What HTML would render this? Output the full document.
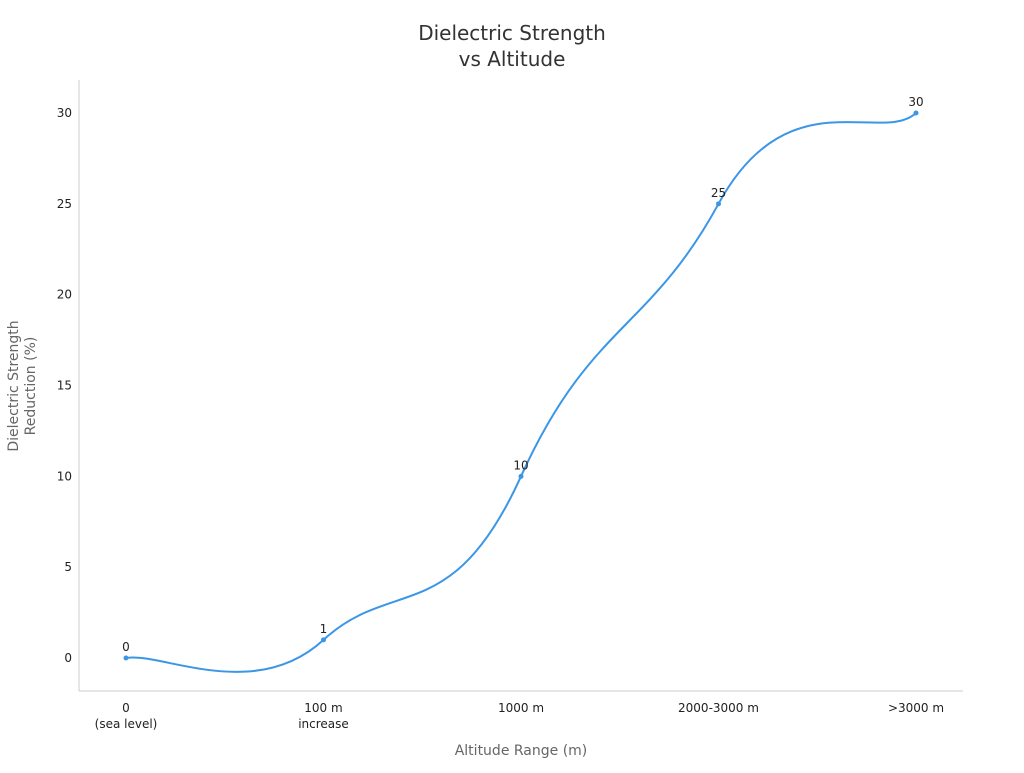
<!DOCTYPE html>
<html><head><meta charset="utf-8"><style>
body{margin:0;background:#fff;}
svg{font-family:"DejaVu Sans","Liberation Sans",sans-serif;}
</style></head><body>
<svg id="chart" width="1024" height="768">
<text x="512" y="40" text-anchor="middle" font-size="20" fill="#333"><tspan x="512">Dielectric Strength</tspan><tspan x="512" dy="26">vs Altitude</tspan></text>
<line x1="79" y1="80" x2="79" y2="691" stroke="#ccc"/>
<line x1="79" y1="691" x2="963" y2="691" stroke="#ccc"/>
<g id="yticks"></g><g id="xticks"></g>
<path id="line" fill="none" stroke="#3a96e6" stroke-width="2"/>
<g id="points"></g>
<text x="521" y="755" text-anchor="middle" font-size="14" fill="#666">Altitude Range (m)</text>
<text transform="translate(18,386) rotate(-90)" text-anchor="middle" font-size="14" fill="#666"><tspan x="0" dy="0">Dielectric Strength</tspan><tspan x="0" dy="17">Reduction (%)</tspan></text>
</svg>
<script>
const categories=[["0","(sea level)"],["100 m","increase"],["1000 m"],["2000-3000 m"],[">3000 m"]];
const values=[0,1,10,25,30];
const yTicks=[0,5,10,15,20,25,30];
const NS="http://www.w3.org/2000/svg";
const xs=i=>126+i*(916-126)/(categories.length-1);
const ys=v=>658-v*(658-113)/30;
const svg=document.getElementById('chart');
function mk(tag,attrs,parent,text){const e=document.createElementNS(NS,tag);for(const k in attrs)e.setAttribute(k,attrs[k]);if(text!==undefined)e.textContent=text;parent.appendChild(e);return e;}
const yt=document.getElementById('yticks');
yTicks.forEach(t=>{const e=mk('text',{x:72,y:ys(t)+4,'text-anchor':'end','font-size':12,fill:'#222'},yt,t);

});
const xt=document.getElementById('xticks');
categories.forEach((c,i)=>{c.forEach((s,j)=>{const e=mk('text',{x:xs(i),y:712+j*16,'text-anchor':'middle','font-size':12,fill:'#222'},xt,s);

});});
const P=values.map((v,i)=>[xs(i),ys(v)]);
let d=`M${P[0][0]},${P[0][1]}`;
for(let i=0;i<P.length-1;i++){const p0=P[Math.max(0,i-1)],p1=P[i],p2=P[i+1],p3=P[Math.min(P.length-1,i+2)];
const t=0.35;
const c1=[p1[0]+(p2[0]-p0[0])*t/2*1.0,p1[1]+(p2[1]-p0[1])*t];
const c2=[p2[0]-(p3[0]-p1[0])*t/2*1.0,p2[1]-(p3[1]-p1[1])*t];
d+=` C${c1[0]},${c1[1]} ${c2[0]},${c2[1]} ${p2[0]},${p2[1]}`;}
document.getElementById('line').setAttribute('d',d);
const pg=document.getElementById('points');
values.forEach((v,i)=>{const c=mk('circle',{cx:xs(i),cy:ys(v),r:2.5,fill:'#3a96e6'},pg);


const l=mk('text',{x:xs(i),y:ys(v)-7,'text-anchor':'middle','font-size':12,fill:'#222'},pg,v);

});
</script>
</body></html>
